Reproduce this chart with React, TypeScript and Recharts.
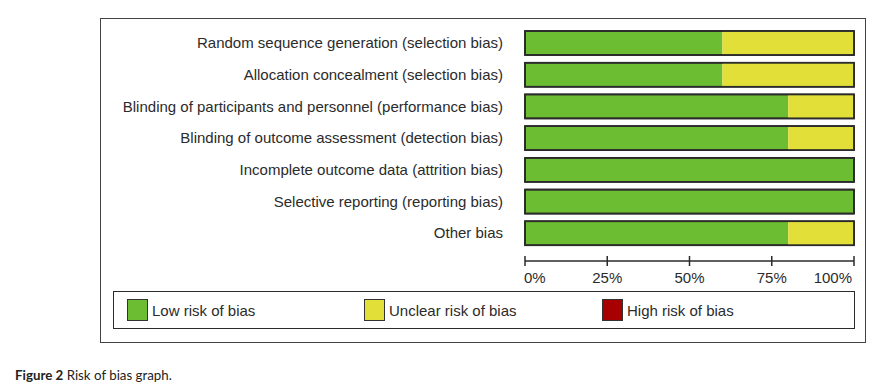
import { BarChart, Bar, XAxis, YAxis, Legend } from "recharts";

const categories = [
  "Random sequence generation (selection bias)",
  "Allocation concealment (selection bias)",
  "Blinding of participants and personnel (performance bias)",
  "Blinding of outcome assessment (detection bias)",
  "Incomplete outcome data (attrition bias)",
  "Selective reporting (reporting bias)",
  "Other bias",
];
const lowRisk = [60, 60, 80, 80, 100, 100, 80];
const unclearRisk = [40, 40, 20, 20, 0, 0, 20];
const highRisk = [0, 0, 0, 0, 0, 0, 0];
const xTicks = [0, 25, 50, 75, 100];
const legendOrder = ["low", "unclear", "high"];

const data = categories.map((name, i) => ({
  name,
  low: lowRisk[i],
  unclear: unclearRisk[i],
  high: highRisk[i],
}));

const FONT = '"Liberation Sans", Arial, sans-serif';
const INK = "#2b2b2b";

// each segment paints its fill, then re-strokes the whole bar outline so the
// split between green and yellow has no line
function OutlinedSegment(props: any) {
  const { x, y, width, height, fill, background } = props;
  return (
    <g>
      {width > 0 && <rect x={x} y={y} width={width} height={height} fill={fill} />}
      {background && (
        <rect
          x={background.x}
          y={y}
          width={background.width}
          height={height}
          fill="none"
          stroke={INK}
          strokeWidth={1.5}
        />
      )}
    </g>
  );
}

function PercentTick(props: any) {
  const { x, y, payload, index } = props;
  const last = index === xTicks.length - 1;
  const anchor = index === 0 ? "start" : last ? "end" : "middle";
  const dx = index === 0 ? -1 : last ? -2 : 0;
  return (
    <g>
      <line x1={x} x2={x} y1={y - 5} y2={y + 5} stroke={INK} strokeWidth={1.5} />
      <text x={x + dx} y={y + 22} textAnchor={anchor} fill={INK} fontSize={15} fontFamily={FONT}>
        {payload.value}%
      </text>
    </g>
  );
}

function RiskLegend(props: any) {
  const items = (props.payload || [])
    .filter((p: any) => legendOrder.includes(p.dataKey))
    .sort((a: any, b: any) => legendOrder.indexOf(a.dataKey) - legendOrder.indexOf(b.dataKey));
  const lefts = [13, 250, 488];
  return (
    <div
      style={{
        position: "relative",
        width: 742,
        height: 38,
        border: `1.5px solid ${INK}`,
        boxSizing: "border-box",
      }}
    >
      {items.map((item: any, i: number) => (
        <div
          key={item.value}
          style={{
            position: "absolute",
            left: lefts[i],
            top: 7,
            display: "flex",
            alignItems: "center",
          }}
        >
          <span
            style={{
              width: 21,
              height: 22,
              background: item.color,
              border: "1px solid #333",
              boxSizing: "border-box",
              display: "inline-block",
            }}
          />
          <span style={{ marginLeft: 4, fontSize: 15, fontFamily: FONT, color: INK }}>
            {item.value}
          </span>
        </div>
      ))}
    </div>
  );
}

export default function App() {
  return (
    <div style={{ position: "absolute", left: 0, top: 0, width: 879, height: 391, background: "#fff" }}>
      <div
        style={{
          position: "absolute",
          left: 100,
          top: 18,
          width: 766,
          height: 325,
          border: "1.5px solid #444",
          boxSizing: "border-box",
        }}
      />
      <div style={{ position: "absolute", left: 0, top: 0 }}>
        <BarChart
          width={879}
          height={391}
          data={data}
          layout="vertical"
          margin={{ top: 27, right: 25, left: 0, bottom: 100 }}
        >
          <XAxis
            type="number"
            domain={[0, 100]}
            ticks={xTicks}
            height={30}
            tickLine={false}
            tickSize={0}
            tickMargin={0}
            axisLine={{ stroke: INK, strokeWidth: 1.5 }}
            tick={<PercentTick />}
          />
          <YAxis
            type="category"
            dataKey="name"
            width={525}
            padding={{ top: 0, bottom: 12 }}
            tickLine={false}
            axisLine={false}
            tickSize={0}
            tickMargin={22}
            tick={{ fill: INK, fontSize: 15, fontFamily: FONT }}
          />
          <Legend
            layout="horizontal"
            verticalAlign="middle"
            content={<RiskLegend />}
            wrapperStyle={{ position: "absolute", left: 113, top: 291, width: 742, height: 38 }}
          />
          <Bar dataKey="low" name="Low risk of bias" stackId="a" fill="#6cbd32" barSize={24} shape={<OutlinedSegment />} isAnimationActive={false} />
          <Bar dataKey="unclear" name="Unclear risk of bias" stackId="a" fill="#e1df38" barSize={24} shape={<OutlinedSegment />} isAnimationActive={false} />
          <Bar dataKey="high" name="High risk of bias" stackId="a" fill="#a80000" barSize={24} shape={<OutlinedSegment />} isAnimationActive={false} />
        </BarChart>
      </div>
      <div
        style={{
          position: "absolute",
          left: 15,
          top: 367,
          fontSize: 13.3,
          fontFamily: "Lato, sans-serif",
          color: "#222",
        }}
      >
        <b>Figure 2</b> Risk of bias graph.
      </div>
    </div>
  );
}
